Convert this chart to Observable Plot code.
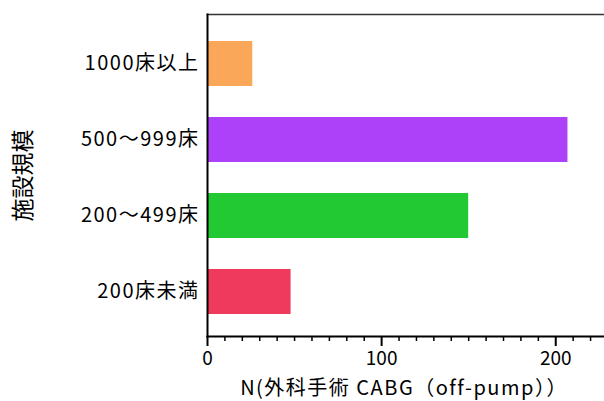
<!DOCTYPE html>
<html>
<head>
<meta charset="utf-8">
<script src="https://cdn.jsdelivr.net/npm/d3@7"></script>
<script src="https://cdn.jsdelivr.net/npm/@observablehq/plot@0.6"></script>
<style>
  html, body { margin: 0; padding: 0; background: #fff; }
  g[aria-label="y-axis tick label"] text { letter-spacing: 1.5px; }
  g[aria-label="text"].xlab text { letter-spacing: 1.5px; }
</style>
</head>
<body>
<div id="chart"></div>
<script>
const categories = ["1000床以上", "500〜999床", "200〜499床", "200床未満"];
const counts = [26, 207, 150, 48];
const barColors = ["#FAA75A", "#AD40F9", "#23C932", "#EF3A5E"];
const xMajorTicks = [0, 100, 200];
const xMinorTicks = [10, 20, 30, 40, 50, 60, 70, 80, 90, 110, 120, 130, 140, 150, 160, 170, 180, 190, 210, 220];
const xLabel = "N(外科手術 CABG（off-pump））";
const yLabel = "施設規模";

const data = categories.map((c, i) => ({category: c, n: counts[i]}));
const font = "'Noto Sans CJK JP', 'Noto Sans', sans-serif";

const chart = Plot.plot({
  width: 604,
  height: 401,
  marginLeft: 207,
  marginRight: 0,
  marginTop: 14,
  marginBottom: 65,
  style: {fontFamily: font, color: "#000", background: "#fff"},
  x: {domain: [0, 228]},
  y: {domain: categories, paddingInner: 0.41, paddingOuter: 0.3, align: 0.54},
  color: {domain: categories, range: barColors},
  marks: [
    Plot.barX(data, {y: "category", x: "n", fill: "category"}),
    Plot.frame({anchor: "top", stroke: "#333", strokeWidth: 1.5}),
    Plot.frame({anchor: "left", stroke: "#000", strokeWidth: 2}),
    Plot.frame({anchor: "bottom", stroke: "#000", strokeWidth: 2}),
    Plot.axisX({ticks: xMinorTicks, tickSize: 5, text: null, label: null, strokeWidth: 1.5, stroke: "#000"}),
    Plot.axisX({ticks: xMajorTicks, tickSize: 10, tickPadding: 5, fontSize: 19, strokeWidth: 2, stroke: "#000", fill: "#000", label: null}),
    Plot.axisY({tickSize: 0, tickPadding: 8, fontSize: 20, fill: "#000", label: null}),
    Plot.text([xLabel], {frameAnchor: "bottom", lineAnchor: "middle", textAnchor: "middle", dx: -2, dy: 52, text: d => d, fontSize: 20, fill: "#000", className: "xlab"}),
    Plot.text([yLabel], {frameAnchor: "left", textAnchor: "middle", lineAnchor: "middle", dx: -184, rotate: -90, text: d => d, fontSize: 23, fill: "#000"})
  ]
});
document.getElementById("chart").appendChild(chart);
</script>
</body>
</html>
